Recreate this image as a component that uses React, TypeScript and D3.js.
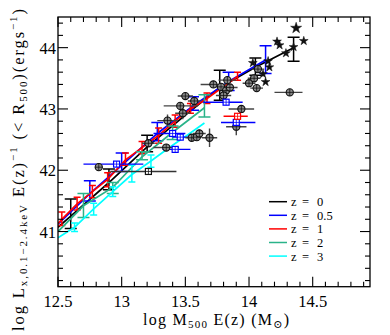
import React from 'react';
import * as d3 from 'd3';

// median relations for each redshift: [log M, log L]
const z0Line = [[12.5, 41.07], [12.6, 41.25], [12.9, 41.8], [13.2, 42.38], [13.5, 42.9], [13.77, 43.35], [14.05, 43.68], [14.35, 44.0]];
const z05Line = [[12.5, 41.12], [12.75, 41.62], [13.0, 42.08], [13.28, 42.6], [13.56, 43.05], [13.84, 43.45], [14.13, 43.8]];
const z1Line = [[12.5, 41.13], [12.53, 41.2], [12.65, 41.45], [12.77, 41.65], [12.89, 41.85], [13.03, 42.17], [13.16, 42.37], [13.29, 42.57], [13.42, 42.8], [13.54, 43.0], [13.67, 43.17], [13.91, 43.53]];
const z2Line = [[12.5, 41.0], [12.7, 41.42], [12.93, 41.72], [13.16, 42.22], [13.4, 42.62], [13.65, 43.02]];
const z3Line = [[12.5, 40.9], [12.63, 41.07], [12.78, 41.37], [12.93, 41.65], [13.08, 41.93], [13.23, 42.15], [13.38, 42.38], [13.52, 42.58], [13.65, 42.77]];

// scatter bars per bin: [log M, low, high]
const z0Bars = [[12.6, 41.05, 41.53], [12.9, 41.68, 42.02], [13.2, 42.3, 42.57], [13.77, 43.14, 43.63], [14.05, 43.55, 43.83], [14.35, 43.78, 44.17]];
const z05Bars = [[12.75, 41.5, 41.83], [13.0, 41.98, 42.28], [13.28, 42.48, 42.78], [13.56, 42.98, 43.2], [13.84, 43.3, 43.6], [14.13, 43.58, 44.03]];
const z1Bars = [[12.53, 41.1, 41.32], [12.65, 41.35, 41.56], [12.77, 41.55, 41.75], [12.89, 41.73, 41.96], [13.03, 42.08, 42.28], [13.16, 42.27, 42.47], [13.29, 42.44, 42.69], [13.42, 42.7, 42.9], [13.54, 42.93, 43.09], [13.67, 43.09, 43.26], [13.91, 43.47, 43.6]];
const z2Bars = [[12.7, 41.23, 41.62], [12.93, 41.62, 41.8], [13.16, 42.17, 42.3], [13.4, 42.5, 42.72], [13.65, 42.87, 43.23]];
const z3Bars = [[12.63, 41.0, 41.14], [12.78, 41.27, 41.46], [12.93, 41.57, 41.73], [13.08, 41.81, 42.08], [13.23, 42.05, 42.25]];

const zValues = ['0', '0.5', '1', '2', '3'];

// observed groups: [x, y, xLo, xHi, yLo, yHi]
const obsCircles = [
  [12.82, 42.05, 12.79, 12.85, 42.01, 42.09],
  [13.21, 42.44, 13.16, 13.26, 42.39, 42.49],
  [13.35, 42.37, 13.25, 13.45, 42.34, 42.4],
  [13.36, 42.81, 13.28, 13.44, 42.71, 42.91],
  [13.46, 43.05, 13.33, 13.6, 43.0, 43.1],
  [13.48, 42.93, 13.42, 13.54, 42.83, 43.03],
  [13.5, 43.21, 13.44, 13.56, 43.15, 43.27],
  [13.57, 43.13, 13.52, 13.62, 43.08, 43.18],
  [13.55, 42.53, 13.5, 13.6, 42.49, 42.57],
  [13.59, 42.54, 13.55, 13.63, 42.5, 42.58],
  [13.61, 42.6, 13.56, 13.66, 42.55, 42.65],
  [13.69, 42.53, 13.63, 13.75, 42.38, 42.68],
  [13.72, 43.4, 13.62, 13.82, 43.35, 43.45],
  [13.78, 43.36, 13.72, 13.84, 43.31, 43.41],
  [13.82, 43.3, 13.77, 13.87, 43.25, 43.35],
  [13.8, 43.22, 13.74, 13.86, 43.18, 43.26],
  [13.85, 43.35, 13.79, 13.91, 43.31, 43.39],
  [13.83, 43.47, 13.76, 13.9, 43.42, 43.52],
  [13.94, 43.0, 13.84, 14.04, 42.96, 43.04],
  [13.9, 42.71, 13.82, 13.98, 42.57, 42.85],
  [14.0, 43.42, 13.95, 14.05, 43.38, 43.46],
  [14.06, 43.34, 14.01, 14.11, 43.3, 43.38],
  [14.07, 43.65, 14.02, 14.12, 43.6, 43.7],
  [14.04, 43.5, 13.99, 14.09, 43.46, 43.54],
  [14.32, 43.27, 14.2, 14.42, 43.24, 43.3],
];
const obsBlackSquares = [[13.21, 41.98, 12.91, 13.43, 41.96, 42.0]];
const obsBlueSquares = [
  [12.96, 42.1, 12.7, 13.17, 42.08, 42.12],
  [13.42, 42.34, 13.32, 13.54, 42.32, 42.36],
  [13.4, 42.6, 13.25, 13.5, 42.58, 42.62],
  [13.46, 42.54, 13.4, 13.55, 42.52, 42.56],
  [13.82, 43.11, 13.64, 13.95, 43.09, 43.13],
  [13.9, 42.78, 13.78, 14.05, 42.76, 42.8],
];
const obsRedSquares = [[13.91, 42.88, 13.8, 13.99, 42.86, 42.9]];
const obsStars = [
  [14.37, 44.32], [14.43, 44.11], [14.22, 44.1], [14.24, 44.04], [14.29, 43.91],
  [14.35, 44.01], [14.15, 43.78], [14.16, 43.68], [14.13, 43.44], [14.11, 43.57], [14.03, 43.75],
];

const series = [
  { line: z0Line, bars: z0Bars, color: '#000000', cap: 6 },
  { line: z05Line, bars: z05Bars, color: '#0000ff', cap: 6 },
  { line: z1Line, bars: z1Bars, color: '#ff0000', cap: 3.5 },
  { line: z2Line, bars: z2Bars, color: '#2ab389', cap: 6 },
  { line: z3Line, bars: z3Bars, color: '#00ffff', cap: 3.5 },
];

const font = '"Liberation Serif", "DejaVu Serif", serif';

export default function App() {
  const width = 390, height = 335;
  const left = 58, right = 370, top = 17, bottom = 286.7;

  const x = d3.scaleLinear().domain([12.5, 14.95]).range([left, right]);
  const y = d3.scaleLinear().domain([40.1, 44.5]).range([bottom, top]);
  const line = d3.line<number[]>().x(d => x(d[0])).y(d => y(d[1]));

  const xTicks = d3.range(0, 25).map(i => ({ v: 12.5 + i * 0.1, major: i % 5 === 0 }));
  const yTicks = d3.range(1, 23).map(i => ({ v: 40.0 + i * 0.2, major: i % 5 === 0 }));

  const star = d3.symbol().type(d3.symbolStar);

  const errBars = (d: number[], color: string, key: string) => (
    <g key={key} stroke={color} strokeWidth={1.4}>
      <line x1={x(d[2])} x2={x(d[3])} y1={y(d[1])} y2={y(d[1])} />
      <line x1={x(d[0])} x2={x(d[0])} y1={y(d[4])} y2={y(d[5])} />
    </g>
  );

  return (
    <svg width={width} height={height} style={{ position: 'absolute', left: 0, top: 0, background: '#fff' }}>
      <defs>
        <clipPath id="plot"><rect x={left} y={top} width={right - left} height={bottom - top} /></clipPath>
      </defs>

      <g clipPath="url(#plot)">
        {series.map((s, i) => (
          <g key={'s' + i} stroke={s.color} fill="none">
            <path d={line(s.line) || ''} strokeWidth={1.7} />
            {s.bars.map((b, j) => (
              <g key={j} strokeWidth={1.5}>
                <line x1={x(b[0])} x2={x(b[0])} y1={y(b[1])} y2={y(b[2])} />
                <line x1={x(b[0]) - s.cap} x2={x(b[0]) + s.cap} y1={y(b[1])} y2={y(b[1])} />
                <line x1={x(b[0]) - s.cap} x2={x(b[0]) + s.cap} y1={y(b[2])} y2={y(b[2])} />
              </g>
            ))}
          </g>
        ))}

        {obsBlackSquares.map((d, i) => errBars(d, '#333', 'bse' + i))}
        {obsBlueSquares.map((d, i) => errBars(d, '#0000ff', 'ble' + i))}
        {obsRedSquares.map((d, i) => errBars(d, '#ff0000', 'rde' + i))}
        {obsCircles.map((d, i) => errBars(d, '#444', 'ce' + i))}

        {obsCircles.map((d, i) => (
          <g key={'c' + i} transform={`translate(${x(d[0])},${y(d[1])})`}>
            <circle r={3.6} fill="#8a8a8a" stroke="#111" strokeWidth={1.1} />
            <line x1={-3.6} x2={3.6} stroke="#111" strokeWidth={0.8} />
            <line y1={-3.6} y2={3.6} stroke="#111" strokeWidth={0.8} />
          </g>
        ))}
        {[
          ...obsBlackSquares.map(d => ({ d, c: '#111' })),
          ...obsBlueSquares.map(d => ({ d, c: '#0000ff' })),
          ...obsRedSquares.map(d => ({ d, c: '#ff0000' })),
        ].map((o, i) => (
          <g key={'q' + i} transform={`translate(${x(o.d[0])},${y(o.d[1])})`} stroke={o.c}>
            <rect x={-3} y={-3} width={6} height={6} fill="#fff" strokeWidth={1.2} />
            <line x1={-3} x2={3} strokeWidth={0.8} />
            <line y1={-3} y2={3} strokeWidth={0.8} />
          </g>
        ))}
        {obsStars.map((d, i) => (
          <path key={'st' + i} d={star.size(i === 0 ? 38 : 24)() || ''}
                transform={`translate(${x(d[0])},${y(d[1])})`} fill="#111" stroke="#111" strokeWidth={0.5} />
        ))}
      </g>

      {/* frame and ticks */}
      <rect x={left} y={top} width={right - left} height={bottom - top} fill="none" stroke="#000" strokeWidth={1.3} />
      <g stroke="#000" strokeWidth={1.1}>
        {xTicks.map((t, i) => {
          const len = t.major ? 10 : 5;
          return (
            <g key={'xt' + i}>
              <line x1={x(t.v)} x2={x(t.v)} y1={bottom} y2={bottom - len} />
              <line x1={x(t.v)} x2={x(t.v)} y1={top} y2={top + len} />
            </g>
          );
        })}
        {yTicks.map((t, i) => {
          const len = t.major ? 10 : 5;
          return (
            <g key={'yt' + i}>
              <line x1={left} x2={left + len} y1={y(t.v)} y2={y(t.v)} />
              <line x1={right} x2={right - len} y1={y(t.v)} y2={y(t.v)} />
            </g>
          );
        })}
      </g>

      <g fontFamily={font} fontSize={16.5} fill="#000">
        {xTicks.filter(t => t.major).map((t, i) => (
          <text key={'xl' + i} x={x(t.v)} y={307} textAnchor="middle">{d3.format('~g')(+t.v.toFixed(1))}</text>
        ))}
        {yTicks.filter(t => t.major).map((t, i) => (
          <text key={'yl' + i} x={56} y={y(t.v) + 6} textAnchor="end">{Math.round(t.v)}</text>
        ))}

        <text x={216} y={325} textAnchor="middle" fontSize={16} textLength={146} lengthAdjust="spacing">
          log M<tspan fontSize={11} dy={3}>500</tspan><tspan dy={-3}> E(z)  (M</tspan><tspan fontSize={11} dy={3}>⊙</tspan><tspan dy={-3}>)</tspan>
        </text>

        <text transform="translate(24,170) rotate(-90)" textAnchor="middle" fontSize={16.5} textLength={322} lengthAdjust="spacing">
          log L<tspan fontSize={11} dy={3}>x,0.1−2.4keV</tspan><tspan dy={-3}> E(z)</tspan><tspan fontSize={11} dy={-7}>−1</tspan><tspan dy={7}> (&lt; R</tspan><tspan fontSize={11} dy={3}>500</tspan><tspan dy={-3}>)(ergs</tspan><tspan fontSize={11} dy={-7}>−1</tspan><tspan dy={7}>)</tspan>
        </text>
      </g>

      {/* legend */}
      <g fontFamily={font} fontSize={12.5}>
        {zValues.map((v, i) => {
          const cy = 201.7 + i * 13.6;
          return (
            <g key={'lg' + i}>
              <line x1={269} x2={287} y1={cy} y2={cy} stroke={series[i].color} strokeWidth={1.5} />
              <text x={291} y={cy + 4.5}>z</text>
              <text x={302} y={cy + 4.5}>=</text>
              <text x={317} y={cy + 4.5}>{v}</text>
            </g>
          );
        })}
      </g>
    </svg>
  );
}
